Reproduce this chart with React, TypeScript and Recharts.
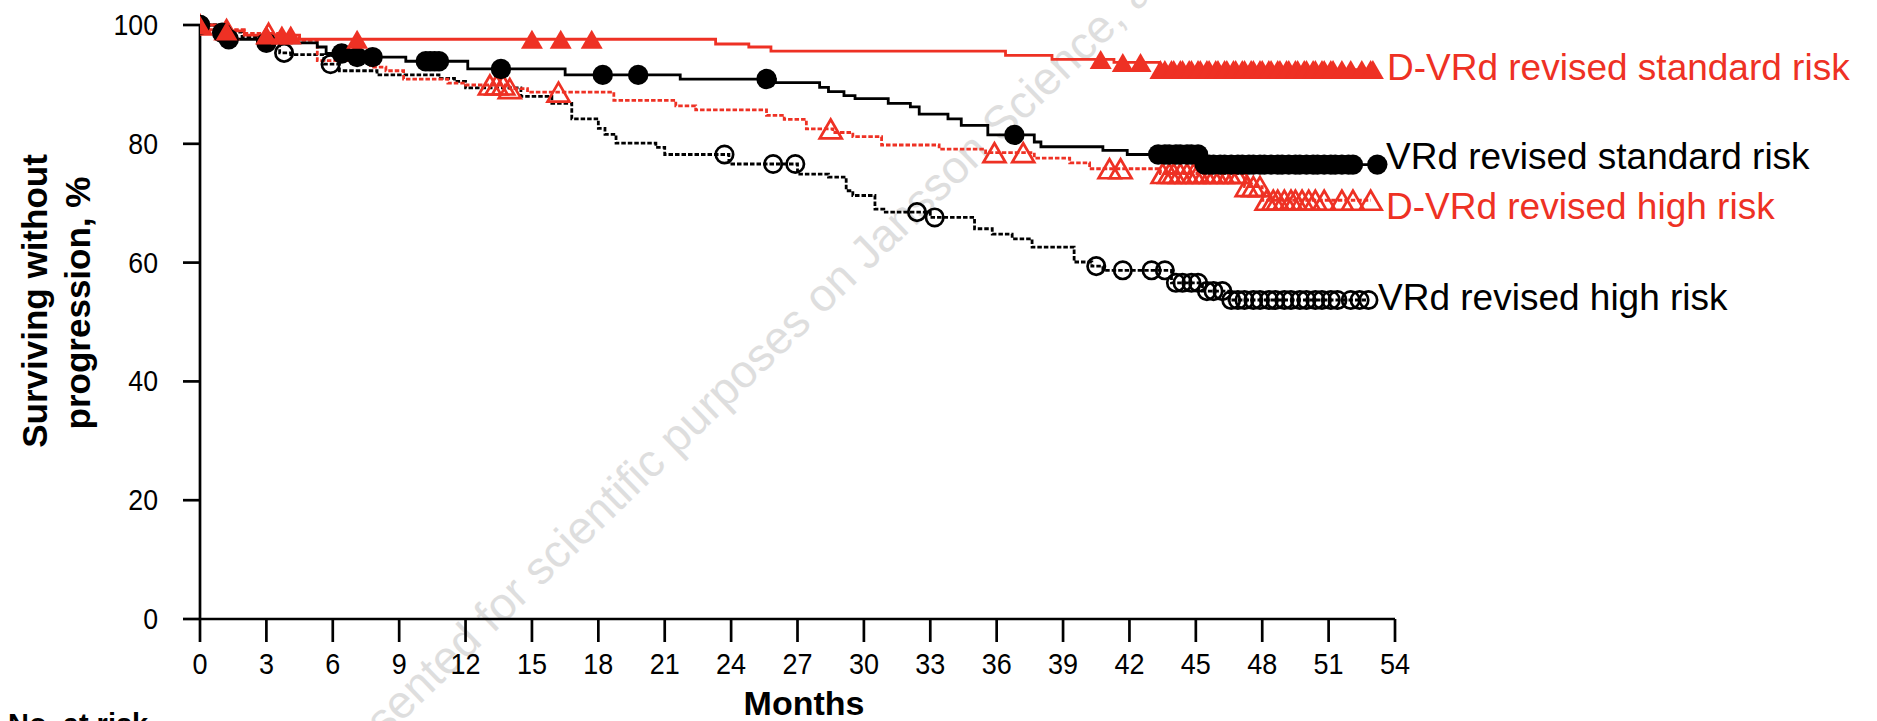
import React from 'react';
import { ComposedChart, Line, Scatter, XAxis, YAxis } from 'recharts';

const RED = '#ee3124';
const BLACK = '#000000';
const FONT = "'Liberation Sans', Arial, Helvetica, sans-serif";

// D-VRd revised standard risk (step function: time in months, % surviving without progression)
const dvrdStdTimes = [0, 0.7, 2.0, 4.5, 23.3, 24.8, 25.8, 36.4, 38.5, 41.3, 43.35, 53.0];
const dvrdStdValues = [100, 99.0, 98.3, 97.6, 96.8, 96.3, 95.6, 94.9, 94.2, 93.7, 92.5, 92.5];
const dvrdStdCensor = [0, 1.2, 3.0, 3.7, 4.1, 7.1, 15.0, 16.3, 17.7, 40.7, 41.7, 42.5, 43.4, 43.6, 43.9, 44.0, 44.3, 44.4, 44.7, 44.8, 45.1, 45.2, 45.5, 45.6, 45.9, 46.0, 46.3, 46.4, 46.7, 46.8, 47.1, 47.2, 47.5, 47.6, 47.9, 48.0, 48.3, 48.4, 48.7, 48.8, 49.1, 49.2, 49.5, 49.6, 49.9, 50.0, 50.3, 50.4, 50.7, 50.8, 51.1, 51.2, 51.6, 52.0, 52.5, 52.9, 53.0];

// VRd revised standard risk
const vrdStdTimes = [0, 0.7, 1.2, 2.6, 5.3, 5.7, 6.5, 9.3, 12.1, 16.5, 21.7, 26.0, 28.0, 28.4, 29.1, 29.6, 31.1, 32.1, 32.5, 33.8, 34.4, 35.6, 37.7, 38.0, 40.8, 41.9, 45.3, 53.2];
const vrdStdValues = [100, 98.7, 97.6, 97.0, 96.3, 95.2, 94.6, 93.9, 92.6, 91.6, 90.9, 90.3, 89.5, 88.8, 88.1, 87.6, 86.8, 86.2, 85.0, 84.2, 83.1, 81.5, 80.3, 79.5, 78.9, 78.2, 76.5, 76.5];
const vrdStdCensor = [0, 1.0, 1.3, 3.0, 6.4, 7.1, 7.8, 10.2, 10.4, 10.6, 10.8, 13.6, 18.2, 19.8, 25.6, 36.8, 43.3, 43.6, 43.8, 44.1, 44.3, 44.6, 44.8, 45.1, 45.4, 45.6, 45.8, 46.1, 46.3, 46.6, 46.9, 47.1, 47.4, 47.6, 47.9, 48.1, 48.4, 48.7, 48.9, 49.2, 49.5, 49.7, 50.0, 50.3, 50.5, 50.8, 51.1, 51.3, 51.6, 51.9, 52.1, 53.2];

// D-VRd revised high risk
const dvrdHighTimes = [0, 0.4, 2.0, 3.5, 4.5, 5.3, 7.7, 8.4, 9.2, 11.2, 12.0, 14.0, 14.8, 18.7, 21.5, 22.4, 25.6, 26.4, 27.4, 28.6, 29.5, 30.8, 33.4, 35.5, 37.7, 39.3, 40.2, 43.4, 47.2, 48.0, 52.9];
const dvrdHighValues = [100, 99.2, 98.6, 97.8, 97.4, 94.0, 92.9, 92.3, 90.9, 90.2, 89.9, 89.3, 88.7, 87.3, 86.4, 85.7, 84.8, 84.1, 82.5, 81.9, 81.2, 79.8, 79.1, 78.5, 77.6, 76.8, 75.8, 75.0, 72.8, 70.5, 70.5];
const dvrdHighCensor = [0, 1.2, 3.1, 13.1, 13.4, 13.7, 14.0, 16.2, 28.5, 35.9, 37.2, 41.1, 41.6, 43.5, 43.8, 44.0, 44.3, 44.6, 44.9, 45.1, 45.4, 45.7, 45.9, 46.2, 46.5, 46.8, 47.0, 47.3, 47.6, 47.9, 48.2, 48.5, 48.7, 49.0, 49.3, 49.5, 49.8, 50.1, 50.4, 50.8, 51.6, 52.1, 52.9];

// VRd revised high risk
const vrdHighTimes = [0, 1.0, 1.9, 2.6, 3.6, 4.1, 5.6, 6.3, 8.0, 10.8, 11.5, 12.0, 14.5, 15.9, 16.8, 18.0, 18.3, 18.8, 20.6, 21.0, 23.9, 27.0, 28.4, 29.2, 29.5, 30.5, 30.9, 33.0, 35.0, 35.8, 36.7, 37.6, 39.5, 40.3, 40.8, 43.9, 45.3, 46.5, 52.8];
const vrdHighValues = [100, 98.8, 98.0, 97.2, 95.3, 95.0, 93.4, 92.3, 91.6, 91.0, 90.5, 89.4, 88.0, 86.8, 84.2, 82.6, 81.6, 80.1, 79.4, 78.2, 76.6, 74.9, 74.4, 72.1, 71.3, 69.0, 68.5, 67.6, 65.7, 64.8, 64.0, 62.6, 60.1, 59.4, 58.7, 56.6, 55.2, 53.7, 53.7];
const vrdHighCensor = [0, 3.8, 5.9, 23.7, 25.9, 26.9, 32.4, 33.2, 40.5, 41.7, 43.0, 43.6, 44.1, 44.4, 44.8, 45.1, 45.5, 45.8, 46.2, 46.6, 46.9, 47.2, 47.6, 47.9, 48.3, 48.6, 49.0, 49.3, 49.7, 50.0, 50.4, 50.7, 51.1, 51.4, 52.0, 52.4, 52.8];

const xTicks = [0, 3, 6, 9, 12, 15, 18, 21, 24, 27, 30, 33, 36, 39, 42, 45, 48, 51, 54];
const yTicks = [0, 20, 40, 60, 80, 100];

const seriesLabels = [
  'D-VRd revised standard risk',
  'VRd revised standard risk',
  'D-VRd revised high risk',
  'VRd revised high risk',
];

function stepAt(times: number[], values: number[], t: number): number {
  let v = values[0];
  for (let i = 0; i < times.length; i++) {
    if (times[i] <= t + 1e-9) v = values[i];
    else break;
  }
  return v;
}

const toLine = (times: number[], values: number[]) => times.map((t, i) => ({ t, v: values[i] }));
const toCensor = (times: number[], values: number[], censor: number[]) =>
  censor.map((t) => ({ t, v: stepAt(times, values, t) }));

const dvrdStdLine = toLine(dvrdStdTimes, dvrdStdValues);
const vrdStdLine = toLine(vrdStdTimes, vrdStdValues);
const dvrdHighLine = toLine(dvrdHighTimes, dvrdHighValues);
const vrdHighLine = toLine(vrdHighTimes, vrdHighValues);

const dvrdStdMarks = toCensor(dvrdStdTimes, dvrdStdValues, dvrdStdCensor);
const vrdStdMarks = toCensor(vrdStdTimes, vrdStdValues, vrdStdCensor);
const dvrdHighMarks = toCensor(dvrdHighTimes, dvrdHighValues, dvrdHighCensor);
const vrdHighMarks = toCensor(vrdHighTimes, vrdHighValues, vrdHighCensor);

const TRI_W = 22;
const TRI_H = 19;

const triPoints = (cx: number, cy: number) =>
  `${cx},${cy - TRI_H / 2} ${cx + TRI_W / 2},${cy + TRI_H / 2} ${cx - TRI_W / 2},${cy + TRI_H / 2}`;

const FilledTriangle = (p: any) => <polygon points={triPoints(p.cx, p.cy)} fill={RED} stroke="none" />;
const OpenTriangle = (p: any) => (
  <polygon points={triPoints(p.cx, p.cy)} fill="none" stroke={RED} strokeWidth={2.7} strokeLinejoin="miter" />
);
const FilledCircle = (p: any) => <circle cx={p.cx} cy={p.cy} r={10.2} fill={BLACK} />;
const OpenCircle = (p: any) => <circle cx={p.cx} cy={p.cy} r={8.7} fill="none" stroke={BLACK} strokeWidth={2.7} />;

const XTick = (props: any) => {
  const { x, payload } = props;
  return (
    <text
      x={0}
      y={0}
      transform={`translate(${x},674) scale(0.9,1)`}
      textAnchor="middle"
      fontFamily={FONT}
      fontSize={30}
      fill={BLACK}
    >
      {payload.value}
    </text>
  );
};

const YTick = (props: any) => {
  const { y, payload } = props;
  return (
    <text
      x={0}
      y={0}
      transform={`translate(158,${y + 10}) scale(0.92,1)`}
      textAnchor="end"
      fontFamily={FONT}
      fontSize={29}
      fill={BLACK}
    >
      {payload.value}
    </text>
  );
};

export default function App() {
  return (
    <div style={{ position: 'absolute', left: 0, top: 0, width: 1877, height: 721, background: '#fff', overflow: 'hidden' }}>
      <svg width={1877} height={721} style={{ position: 'absolute', left: 0, top: 0 }}>
        <g transform="rotate(-44, 493, 634)">
          <text x={493} y={634} fontFamily={FONT} fontSize={46} fill="#dedede" textAnchor="start">
            for scientific purposes on Jansson Science, and
          </text>
          <text x={480} y={634} fontFamily={FONT} fontSize={46} fill="#dedede" textAnchor="end">
            Presented
          </text>
        </g>
      </svg>
      <div style={{ position: 'absolute', left: 0, top: 0 }}>
        <ComposedChart width={1877} height={721} margin={{ top: 25, right: 482, bottom: 72, left: 140 }}>
          <XAxis
            dataKey="t"
            type="number"
            domain={[0, 54]}
            ticks={xTicks}
            allowDataOverflow
            height={30}
            tickSize={23}
            axisLine={{ stroke: BLACK, strokeWidth: 2.7 }}
            tickLine={{ stroke: BLACK, strokeWidth: 2.7 }}
            tick={<XTick />}
            interval={0}
          />
          <YAxis
            dataKey="v"
            type="number"
            domain={[0, 100]}
            ticks={yTicks}
            width={60}
            tickSize={17}
            axisLine={{ stroke: BLACK, strokeWidth: 2.7 }}
            tickLine={{ stroke: BLACK, strokeWidth: 2.7 }}
            tick={<YTick />}
            interval={0}
          />
          <Line data={vrdHighLine} dataKey="v" type="stepAfter" stroke={BLACK} strokeWidth={2.8} strokeDasharray="4.5 2" dot={false} activeDot={false} isAnimationActive={false} />
          <Line data={dvrdHighLine} dataKey="v" type="stepAfter" stroke={RED} strokeWidth={2.8} strokeDasharray="4.5 2" dot={false} activeDot={false} isAnimationActive={false} />
          <Line data={vrdStdLine} dataKey="v" type="stepAfter" stroke={BLACK} strokeWidth={2.8} dot={false} activeDot={false} isAnimationActive={false} />
          <Line data={dvrdStdLine} dataKey="v" type="stepAfter" stroke={RED} strokeWidth={2.8} dot={false} activeDot={false} isAnimationActive={false} />
          <Scatter data={vrdHighMarks} dataKey="v" shape={OpenCircle} isAnimationActive={false} />
          <Scatter data={dvrdHighMarks} dataKey="v" shape={OpenTriangle} isAnimationActive={false} />
          <Scatter data={vrdStdMarks} dataKey="v" shape={FilledCircle} isAnimationActive={false} />
          <Scatter data={dvrdStdMarks} dataKey="v" shape={FilledTriangle} isAnimationActive={false} />
        </ComposedChart>
      </div>
      <svg width={1877} height={721} style={{ position: 'absolute', left: 0, top: 0, pointerEvents: 'none' }}>
        <text x={1387} y={80} fontFamily={FONT} fontSize={37} fill={RED}>{seriesLabels[0]}</text>
        <text x={1386} y={169} fontFamily={FONT} fontSize={37} fill={BLACK}>{seriesLabels[1]}</text>
        <text x={1386} y={219} fontFamily={FONT} fontSize={37} fill={RED}>{seriesLabels[2]}</text>
        <text x={1378} y={310} fontFamily={FONT} fontSize={37} fill={BLACK}>{seriesLabels[3]}</text>
        <text transform="translate(47,301) rotate(-90)" textAnchor="middle" fontFamily={FONT} fontSize={35} fontWeight="bold" fill={BLACK}>
          Surviving without
        </text>
        <text transform="translate(90,303) rotate(-90)" textAnchor="middle" fontFamily={FONT} fontSize={35} fontWeight="bold" fill={BLACK}>
          progression, %
        </text>
        <text x={804} y={715} textAnchor="middle" fontFamily={FONT} fontSize={34} fontWeight="bold" fill={BLACK}>
          Months
        </text>
        <text x={8} y={734} fontFamily={FONT} fontSize={29} fontWeight="bold" fill={BLACK}>
          No. at risk
        </text>
      </svg>
    </div>
  );
}
